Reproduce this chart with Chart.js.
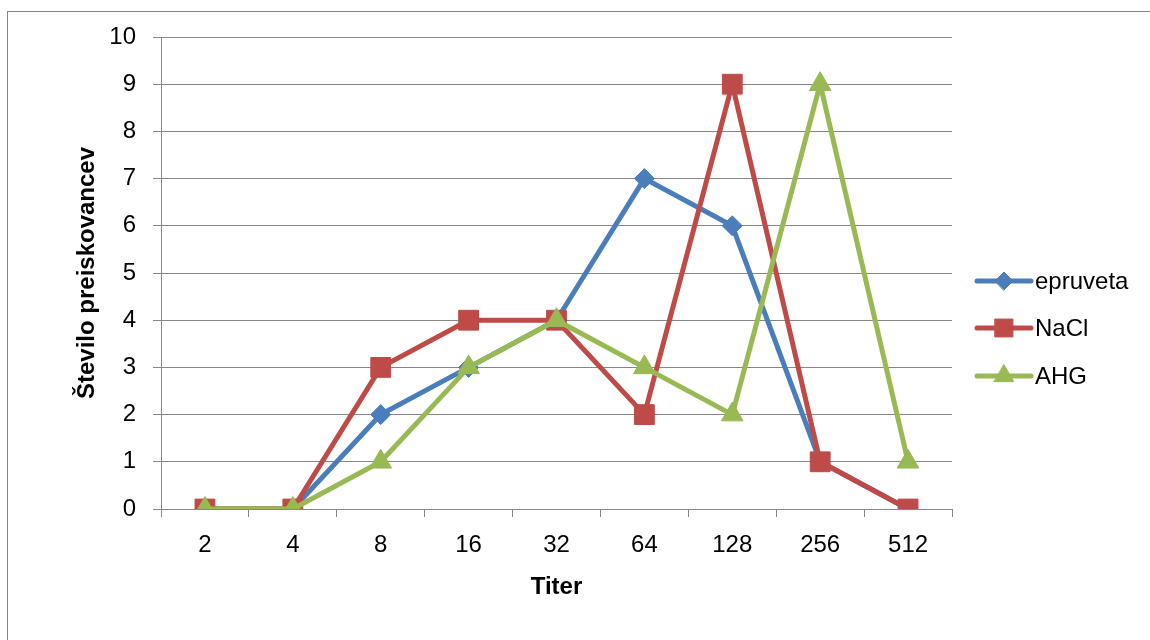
<!DOCTYPE html>
<html>
<head>
<meta charset="utf-8">
<script src="https://cdn.jsdelivr.net/npm/chart.js@4"></script>
<style>
  html, body { margin: 0; padding: 0; background: #fff; }
  #wrap { width: 1150px; height: 640px; }
</style>
</head>
<body>
<div id="wrap"><canvas id="titerChart" width="1150" height="640"></canvas></div>
<script>
const titerLabels = ["2", "4", "8", "16", "32", "64", "128", "256", "512"];
const epruvetaValues = [0, 0, 2, 3, 4, 7, 6, 1, 0];
const naclValues = [0, 0, 3, 4, 4, 2, 9, 1, 0];
const ahgValues = [0, 0, 1, 3, 4, 3, 2, 9, 1];

const FONT = "'Liberation Sans', Arial, sans-serif";
const FONT_SIZE = 24;
const GRID = "#868686";

const series = [
    { label: "epruveta", data: epruvetaValues, color: "#4a7ebb", style: "rectRot", radius: 10, order: 3 },
    { label: "NaCl", data: naclValues, color: "#be4b48", style: "rect", radius: 14, order: 2 },
    { label: "AHG", data: ahgValues, color: "#98b954", style: "triangle", radius: 12.5, order: 1 },
];

// okvir okoli grafa
const framePlugin = {
    id: "frame",
    beforeDraw(chart) {
        const ctx = chart.ctx;
        ctx.save();
        ctx.fillStyle = "#fff";
        ctx.fillRect(0, 0, chart.width, chart.height);
        ctx.strokeStyle = GRID;
        ctx.lineWidth = 1;
        ctx.strokeRect(7.5, 11.5, 1300, 800);
        ctx.restore();
    },
};

// legenda kot v Excelu: crta + oznaka
const legendPlugin = {
    id: "excelLegend",
    afterDraw(chart) {
        const ctx = chart.ctx;
        const x0 = 977, x1 = 1031, textX = 1035;
        const ys = [281, 328, 376];
        ctx.save();
        series.forEach((s, i) => {
            const y = ys[i];
            ctx.strokeStyle = s.color;
            ctx.lineWidth = 5;
            ctx.lineCap = "round";
            ctx.beginPath();
            ctx.moveTo(x0, y);
            ctx.lineTo(x1, y);
            ctx.stroke();
            ctx.fillStyle = s.color;
            ctx.lineWidth = 1;
            Chart.helpers.drawPoint(ctx, {
                pointStyle: s.style,
                radius: s.radius * 0.9,
                rotation: 0,
                borderWidth: 1,
            }, (x0 + x1) / 2, y);
            ctx.fillStyle = "#000";
            ctx.font = FONT_SIZE + "px " + FONT;
            ctx.textBaseline = "middle";
            ctx.textAlign = "left";
            ctx.fillText(s.label, textX, y + 1);
        });
        ctx.restore();
    },
};

new Chart(document.getElementById("titerChart").getContext("2d"), {
    type: "line",
    data: {
        labels: titerLabels,
        datasets: series.map((s) => ({
            label: s.label,
            data: s.data,
            order: s.order,
            borderColor: s.color,
            backgroundColor: s.color,
            borderWidth: 5,
            pointStyle: s.style,
            pointRadius: s.radius,
            pointBorderWidth: 1,
            pointBorderColor: s.color,
            pointBackgroundColor: s.color,
            tension: 0,
            fill: false,
        })),
    },
    options: {
        responsive: false,
        animation: false,
        layout: { padding: { left: 68, top: 37, right: 198, bottom: 0 } },
        plugins: {
            legend: { display: false },
            tooltip: { enabled: false },
        },
        scales: {
            x: {
                offset: true,
                grid: { offset: true, drawOnChartArea: false, drawTicks: true, tickLength: 8, color: GRID },
                border: { color: GRID, width: 1 },
                ticks: { color: "#000", font: { family: FONT, size: FONT_SIZE }, padding: 14, maxRotation: 0 },
                title: {
                    display: true,
                    text: "Titer",
                    color: "#000",
                    font: { family: FONT, size: FONT_SIZE, weight: "bold" },
                    padding: { top: 0, bottom: 38 },
                },
                afterFit(scale) { scale.height = 131; },
            },
            y: {
                min: 0,
                max: 10,
                ticks: { stepSize: 1, color: "#000", font: { family: FONT, size: FONT_SIZE }, padding: 17 },
                grid: { color: GRID, lineWidth: 1, tickLength: 8 },
                border: { color: GRID, width: 1 },
                title: {
                    display: true,
                    text: "Število preiskovancev",
                    color: "#000",
                    font: { family: FONT, size: FONT_SIZE, weight: "bold" },
                    padding: { top: 5, bottom: 0 },
                },
                afterFit(scale) { scale.width = 93; },
            },
        },
    },
    plugins: [framePlugin, legendPlugin],
});
</script>
</body>
</html>
